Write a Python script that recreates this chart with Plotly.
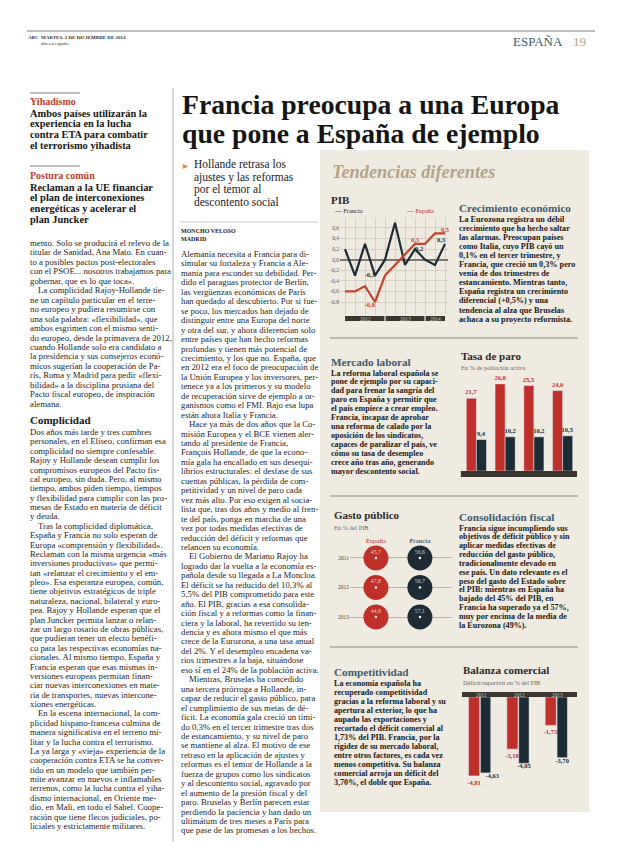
import plotly.graph_objects as go

W, H = 620, 846
SERIF = "Liberation Serif"
RED = "#c0302a"
DARK = "#1d2b35"
BLUEH = "#3d5b6e"
TAN = "#b2a386"
BEIGE = "#f0ebe1"
TXT = "#262626"

# ---------------- data ----------------
pib_quarters = ["I-12", "II-12", "III-12", "IV-12", "I-13", "II-13", "III-13", "IV-13", "I-14", "II-14", "III-14"]
pib_francia = [0.2, -0.3, 0.3, -0.3, 0.0, 0.7, -0.1, 0.2, 0.0, -0.1, 0.3]
pib_espana = [-0.6, -0.6, -0.5, -0.8, -0.3, -0.1, 0.1, 0.3, 0.3, 0.5, 0.5]
pib_years = ["2012", "2013", "2014"]
pib_year_counts = [4, 4, 3]
pib_ticks = [0.6, 0.4, 0.2, 0.0, -0.2, -0.4, -0.6, -0.8]
pib_fr_labels = {3: "middle left", 7: "middle right", 10: "top left"}
pib_es_labels = {3: "bottom left", 7: "top center", 10: "top center"}

paro_years = ["2011", "2012", "2013", "2014"]
paro_espana = [21.7, 26.0, 25.5, 24.0]
paro_francia = [9.4, 10.2, 10.2, 10.5]

gasto_years = ["2011", "2012", "2013"]
gasto_countries = ["España", "Francia"]
gasto_espana = [45.7, 47.8, 44.8]
gasto_francia = [56.6, 56.7, 57.1]

balanza_years = ["2011", "2012", "2013"]
balanza_espana = [-4.81, -3.18, -1.73]
balanza_francia = [-4.63, -4.05, -3.70]
balanza_fr_label_pos = ["bottom right", "bottom center", "bottom center"]


def fmt(v, d=1):
    return f"{v:.{d}f}".replace(".", ",")


def X(x):
    return x / W


def Y(y):
    return 1 - y / H


ann = []
shapes = []


def text(x, y, s, size, color=TXT, family=SERIF, xanchor="left", yanchor="middle", xref="paper"):
    ann.append(dict(x=X(x) if xref == "paper" else x, y=Y(y), xref=xref, yref="paper", text=s,
                    showarrow=False, font=dict(size=size, color=color, family=family),
                    xanchor=xanchor, yanchor=yanchor, borderpad=0))


def block(lines, x, y0, lh, size, color=TXT, bold=False, indent=8):
    for i, s in enumerate(lines):
        dx = 0
        if s.startswith(">"):
            s = s[1:]
            dx = indent
        t = f"<b>{s}</b>" if bold else s
        text(x + dx, y0 + i * lh, t, size, color)


def hline(x0, x1, y, color="#8a8478", width=1):
    shapes.append(dict(type="line", xref="paper", yref="paper", x0=X(x0), x1=X(x1), y0=Y(y), y1=Y(y),
                       line=dict(color=color, width=width)))


def rect(x0, x1, y0, y1, color, layer="below"):
    shapes.append(dict(type="rect", xref="paper", yref="paper", x0=X(x0), x1=X(x1), y0=Y(y1), y1=Y(y0),
                       fillcolor=color, line=dict(width=0), layer=layer))


# ---------------- page furniture ----------------
rect(320, 589, 150, 812, BEIGE)
hline(27, 595, 31, "#777", 1)
shapes.append(dict(type="line", xref="paper", yref="paper", x0=X(173), x1=X(173), y0=Y(88), y1=Y(842),
                   line=dict(color="#999", width=0.8)))
hline(30, 80, 93, "#aaa", 1.5)
hline(30, 80, 166, "#aaa", 1.5)
hline(180, 318, 222, "#aaa", 0.6)
for yy in (338, 496, 647):
    hline(330, 578, yy, "#8a8478", 1)

text(27, 38, "<b>ABC</b>", 5, "#333")
text(40, 38, "<b>MARTES, 2 DE DICIEMBRE DE 2014</b>", 5, "#333")
text(40, 44, "abc.es/españa", 5, "#333")
text(512, 42, "ESPAÑA", 13, BLUEH)
text(572, 42, "19", 13, TAN)

# headline
text(181, 104.5, "<b>Francia preocupa a una Europa</b>", 27.7, "#151515")
text(181, 133, "<b>que pone a España de ejemplo</b>", 27.7, "#151515")

# deck
text(182, 165, "▸", 10, "#e0892b")
block(["Hollande retrasa los", "ajustes y las reformas", "por el temor al", "descontento social"],
      193, 164.5, 12.6, 11.5, "#222")

text(180, 231, "<b>MONCHO VELOSO</b>", 6, "#222")
text(180, 239, "<b>MADRID</b>", 6, "#222")

# left column heads
text(29, 102, "<b>Yihadismo</b>", 10, "#b8402a")
block(["Ambos países utilizarán la", "experiencia en la lucha", "contra ETA para combatir",
       "el terrorismo yihadista"], 29, 113, 10.7, 10.4, "#151515", bold=True)
text(29, 175, "<b>Postura común</b>", 10, "#b8402a")
block(["Reclaman a la UE financiar", "el plan de interconexiones", "energéticas y acelerar el",
       "plan Juncker"], 29, 187, 10.7, 10.4, "#151515", bold=True)

left1 = [
    "mento. Solo se producirá el relevo de la",
    "titular de Sanidad, Ana Mato. En cuan-",
    "to a posibles pactos post-electorales",
    "con el PSOE... nosotros trabajamos para",
    "gobernar, que es lo que toca».",
    ">La complicidad Rajoy-Hollande tie-",
    "ne un capítulo particular en el terre-",
    "no europeo y pudiera resumirse con",
    "una sola palabra: «flexibilidad», que",
    "ambos esgrimen con el mismo senti-",
    "do europeo, desde la primavera de 2012,",
    "cuando Hollande solo era candidato a",
    "la presidencia y sus consejeros econó-",
    "micos sugerían la cooperación de Pa-",
    "rís, Roma y Madrid para pedir «flexi-",
    "bilidad» a la disciplina prusiana del",
    "Pacto fiscal europeo, de inspiración",
    "alemana.",
]
left2 = [
    "Dos años más tarde y tres cumbres",
    "personales, en el Elíseo, confirman esa",
    "complicidad no siempre confesable.",
    "Rajoy y Hollande desean cumplir los",
    "compromisos europeos del Pacto fis-",
    "cal europeo, sin duda. Pero, al mismo",
    "tiempo, ambos piden tiempo, tiempos",
    "y flexibilidad para cumplir con las pro-",
    "mesas de Estado en materia de déficit",
    "y deuda.",
    ">Tras la complicidad diplomática,",
    "España y Francia no solo esperan de",
    "Europa «comprensión y flexibilidad».",
    "Reclaman con la misma urgencia «más",
    "inversiones productivas» que permi-",
    "tan «relanzar el crecimiento y el em-",
    "pleo». Esa esperanza europea, común,",
    "tiene objetivos estratégicos de triple",
    "naturaleza, nacional, bilateral y euro-",
    "pea. Rajoy y Hollande esperan que el",
    "plan Juncker permita lanzar o relan-",
    "zar un largo rosario de obras públicas,",
    "que pudieran tener un efecto benéfi-",
    "co para las respectivas economías na-",
    "cionales. Al mismo tiempo, España y",
    "Francia esperan que esas mismas in-",
    "versiones europeas permitan finan-",
    "ciar nuevas interconexiones en mate-",
    "ria de transportes, nuevas intercone-",
    "xiones energéticas.",
    ">En la escena internacional, la com-",
    "plicidad hispano-francesa culmina de",
    "manera significativa en el terreno mi-",
    "litar y la lucha contra el terrorismo.",
    "La ya larga y «vieja» experiencia de la",
    "cooperación contra ETA se ha conver-",
    "tido en un modelo que también per-",
    "mite avanzar en nuevos e inflamables",
    "terrenos, como la lucha contra el yiha-",
    "dismo internacional, en Oriente me-",
    "dio, en Mali, en todo el Sahel. Coope-",
    "ración que tiene flecos judiciales, po-",
    "liciales y estrictamente militares.",
]
block(left1, 29, 243, 9.45, 8.75)
text(29, 420, "<b>Complicidad</b>", 11, "#151515")
block(left2, 29, 432, 9.38, 8.75)

mid = [
    "Alemania necesita a Francia para di-",
    "simular su fortaleza y Francia a Ale-",
    "mania para esconder su debilidad. Per-",
    "dido el paraguas protector de Berlín,",
    "las vergüenzas económicas de París",
    "han quedado al descubierto. Por si fue-",
    "se poco, los mercados han dejado de",
    "distinguir entre una Europa del norte",
    "y otra del sur, y ahora diferencian solo",
    "entre países que han hecho reformas",
    "profundas y tienen más potencial de",
    "crecimiento, y los que no. España, que",
    "en 2012 era el foco de preocupación de",
    "la Unión Europea y los inversores, per-",
    "tenece ya a los primeros y su modelo",
    "de recuperación sirve de ejemplo a or-",
    "ganismos como el FMI. Bajo esa lupa",
    "están ahora Italia y Francia.",
    ">Hace ya más de dos años que la Co-",
    "misión Europea y el BCE vienen aler-",
    "tando al presidente de Francia,",
    "François Hollande, de que la econo-",
    "mía gala ha encallado en sus desequi-",
    "librios estructurales: el desfase de sus",
    "cuentas públicas, la pérdida de com-",
    "petitividad y un nivel de paro cada",
    "vez más alto. Por eso exigen al socia-",
    "lista que, tras dos años y medio al fren-",
    "te del país, ponga en marcha de una",
    "vez por todas medidas efectivas de",
    "reducción del déficit y reformas que",
    "relancen su economía.",
    ">El Gobierno de Mariano Rajoy ha",
    "logrado dar la vuelta a la economía es-",
    "pañola desde su llegada a La Moncloa.",
    "El déficit se ha reducido del 10,3% al",
    "5,5% del PIB comprometido para este",
    "año. El PIB, gracias a esa consolida-",
    "ción fiscal y a reformas como la finan-",
    "ciera y la laboral, ha revertido su ten-",
    "dencia y es ahora mismo el que más",
    "crece de la Eurozona, a una tasa anual",
    "del 2%. Y el desempleo encadena va-",
    "rios trimestres a la baja, situándose",
    "eso sí en el 24% de la población activa.",
    ">Mientras, Bruselas ha concedido",
    "una tercera prórroga a Hollande, in-",
    "capaz de reducir el gasto público, para",
    "el cumplimiento de sus metas de dé-",
    "ficit. La economía gala creció un timi-",
    "do 0,3% en el tercer trimestre tras dos",
    "de estancamiento, y su nivel de paro",
    "se mantiene al alza. El motivo de ese",
    "retraso en la aplicación de ajustes y",
    "reformas es el temor de Hollande a la",
    "fuerza de grupos como los sindicatos",
    "y al descontento social, agravado por",
    "el aumento de la presión fiscal y del",
    "paro. Bruselas y Berlín parecen estar",
    "perdiendo la paciencia y han dado un",
    "ultimátum de tres meses a París para",
    "que pase de las promesas a los hechos.",
]
block(mid, 180, 254, 9.45, 8.75)

# ---------------- infographic texts ----------------
text(331, 172, "<b><i>Tendencias diferentes</i></b>", 18.3, TAN)

text(458, 208, "<b>Crecimiento económico</b>", 11.2, BLUEH)
block(["La Eurozona registra un débil", "crecimiento que ha hecho saltar", "las alarmas. Preocupan países",
       "como Italia, cuyo PIB cayó un", "0,1% en el tercer trimestre, y", "Francia, que creció un 0,3% pero",
       "venía de dos trimestres de", "estancamiento. Mientras tanto,", "España registra un crecimiento",
       "diferencial (+0,5%) y una", "tendencia al alza que Bruselas", "achaca a su proyecto reformista."],
      458, 219, 9.1, 8.2, "#1a1a1a", bold=True)

text(330, 362, "<b>Mercado laboral</b>", 11.2, BLUEH)
block(["La reforma laboral española se", "pone de ejemplo por su capaci-", "dad para frenar la sangría del",
       "paro en España y permitir que", "el país empiece a crear empleo.", "Francia, incapaz de aprobar",
       "una reforma de calado por la", "oposición de los sindicatos,", "capaces de paralizar el país, ve",
       "cómo su tasa de desempleo", "crece año tras año, generando", "mayor descontento social."],
      330, 373, 8.95, 8.1, "#1a1a1a", bold=True)

text(458, 517, "<b>Consolidación fiscal</b>", 11.2, BLUEH)
block(["Francia sigue incumpliendo sus", "objetivos de déficit público y sin", "aplicar medidas efectivas de",
       "reducción del gasto público,", "tradicionalmente elevado en", "ese país. Un dato relevante es el",
       "peso del gasto del Estado sobre", "el PIB: mientras en España ha", "bajado del 45% del PIB, en",
       "Francia ha superado ya el 57%,", "muy por encima de la media de", "la Eurozona (49%)."],
      458, 528, 8.85, 8.1, "#1a1a1a", bold=True)

text(333, 672, "<b>Competitividad</b>", 11.2, BLUEH)
block(["La economía española ha", "recuperado competitividad", "gracias a la reforma laboral y su",
       "apertura al exterior, lo que ha", "aupado las exportaciones y", "recortado el déficit comercial al",
       "1,73% del PIB. Francia, por la", "rigidez de su mercado laboral,", "entre otros factores, es cada vez",
       "menos competitiva. Su balanza", "comercial arroja un déficit del", "3,70%, el doble que España."],
      333, 683, 9.0, 8.1, "#1a1a1a", bold=True)

# chart titles
text(330, 200, "<b>PIB</b>", 11, "#2a2a2a")
text(333, 211, f"<span style='color:{DARK}'><b>—</b></span> Francia", 6.5, DARK)
text(405, 211, f"<span style='color:{RED}'><b>—</b></span> España", 6.5, RED)
text(460, 356, "<b>Tasa de paro</b>", 11, "#2a2a2a")
text(460, 368, "En % de población activa", 6.3, "#666")
text(333, 515, "<b>Gasto público</b>", 11, "#2a2a2a")
text(333, 527, "En % del PIB", 6.3, "#666")
text(462, 670, "<b>Balanza comercial</b>", 11, "#2a2a2a")
text(462, 682, "Déficit/superávit en % del PIB", 6.3, "#666")

fig = go.Figure()

# ---------------- PIB line chart ----------------
qx = list(range(len(pib_quarters)))
fig.add_trace(go.Scatter(
    x=qx, y=pib_francia, mode="lines+text", line=dict(color=DARK, width=2.2),
    text=[fmt(v) if i in pib_fr_labels else "" for i, v in enumerate(pib_francia)],
    textposition=[pib_fr_labels.get(i, "top center") for i in qx],
    textfont=dict(size=6.5, color=DARK, family=SERIF), texttemplate="<b>%{text}</b>",
    xaxis="x", yaxis="y", showlegend=False, cliponaxis=False))
fig.add_trace(go.Scatter(
    x=qx, y=pib_espana, mode="lines+text", line=dict(color="#c8412b", width=2.2),
    text=[fmt(v) if i in pib_es_labels else "" for i, v in enumerate(pib_espana)],
    textposition=[pib_es_labels.get(i, "top center") for i in qx],
    textfont=dict(size=6.5, color="#c8412b", family=SERIF), texttemplate="<b>%{text}</b>",
    xaxis="x", yaxis="y", showlegend=False, cliponaxis=False))

# year band under PIB
start = 0
last = len(pib_quarters) - 1
for yr, n in zip(pib_years, pib_year_counts):
    x0, x1 = start, min(start + n, last)
    shapes.append(dict(type="rect", xref="x", yref="paper", x0=x0 + (0.06 if start else 0),
                       x1=x1 - (0.06 if x1 < last else 0), y0=Y(321), y1=Y(316),
                       fillcolor="#3b3530", line=dict(width=0)))
    text((x0 + x1) / 2, 318.5, yr, 5.3, "#d8cfbd", xanchor="center", xref="x")
    start += n

# ---------------- Tasa de paro ----------------
fig.add_trace(go.Bar(
    x=paro_years, y=paro_espana, marker_color=RED, width=0.35, offset=-0.35,
    text=[fmt(v) for v in paro_espana], texttemplate="<b>%{text}</b>", textposition="outside",
    textfont=dict(size=6.5, color=RED, family=SERIF), constraintext="none", cliponaxis=False,
    xaxis="x2", yaxis="y2", showlegend=False))
fig.add_trace(go.Bar(
    x=paro_years, y=paro_francia, marker_color=DARK, width=0.35, offset=0.0,
    text=[fmt(v) for v in paro_francia], texttemplate="<b>%{text}</b>", textposition="outside",
    textfont=dict(size=6.5, color=DARK, family=SERIF), constraintext="none", cliponaxis=False,
    xaxis="x2", yaxis="y2", showlegend=False))
shapes.append(dict(type="rect", xref="x2 domain", yref="paper", x0=-0.01, x1=1.0, y0=Y(477), y1=Y(471),
                   fillcolor="#3b3530", line=dict(width=0)))
for yr in paro_years:
    text(yr, 474, yr, 5.3, "#d8cfbd", xanchor="center", xref="x2")

# ---------------- Gasto público ----------------
fig.add_trace(go.Scatter(
    x=[0] * len(gasto_years), y=list(range(len(gasto_years))), mode="markers",
    marker=dict(size=25, color=RED), xaxis="x3", yaxis="y3", showlegend=False, hoverinfo="skip"))
fig.add_trace(go.Scatter(
    x=[1] * len(gasto_years), y=list(range(len(gasto_years))), mode="markers",
    marker=dict(size=25, color=DARK), xaxis="x3", yaxis="y3", showlegend=False, hoverinfo="skip"))
fig.add_trace(go.Scatter(
    x=[0] * len(gasto_years), y=list(range(len(gasto_years))), mode="markers+text",
    marker=dict(size=2.5, color="white"), text=[fmt(v) for v in gasto_espana], textposition="top center",
    textfont=dict(size=5.8, color="#f3cfc2", family=SERIF), xaxis="x3", yaxis="y3", showlegend=False))
fig.add_trace(go.Scatter(
    x=[1] * len(gasto_years), y=list(range(len(gasto_years))), mode="markers+text",
    marker=dict(size=2.5, color="white"), text=[fmt(v) for v in gasto_francia], textposition="top center",
    textfont=dict(size=5.8, color="#c9cfd3", family=SERIF), xaxis="x3", yaxis="y3", showlegend=False))

# ---------------- Balanza comercial ----------------
bx = list(range(len(balanza_years)))
ES_W, ES_OFF = 0.29, -0.33
FR_W, FR_OFF = 0.27, -0.02
fig.add_trace(go.Bar(
    x=bx, y=balanza_espana, marker_color=RED, width=ES_W, offset=ES_OFF,
    text=[fmt(v, 2) for v in balanza_espana], texttemplate="<b>%{text}</b>", textposition="outside",
    textfont=dict(size=6.5, color=RED, family=SERIF), constraintext="none", cliponaxis=False,
    xaxis="x4", yaxis="y4", showlegend=False))
fig.add_trace(go.Bar(
    x=bx, y=balanza_francia, marker_color=DARK, width=FR_W, offset=FR_OFF,
    xaxis="x4", yaxis="y4", showlegend=False))
fig.add_trace(go.Scatter(
    x=[i + FR_OFF + FR_W / 2 for i in bx], y=balanza_francia, mode="text",
    text=[fmt(v, 2) for v in balanza_francia], texttemplate="<b>%{text}</b>",
    textposition=balanza_fr_label_pos, textfont=dict(size=6.5, color=DARK, family=SERIF),
    cliponaxis=False, xaxis="x4", yaxis="y4", showlegend=False))
shapes.append(dict(type="rect", xref="x4 domain", yref="paper", x0=0, x1=1.0, y0=Y(697), y1=Y(692),
                   fillcolor="#3b3530", line=dict(width=0)))
for i, yr in zip(bx, balanza_years):
    text(i, 694.5, yr, 5.3, "#d8cfbd", xanchor="center", xref="x4")

noaxis = dict(showgrid=False, zeroline=False, showline=False, showticklabels=False, ticks="")

fig.update_layout(
    width=W, height=H, margin=dict(l=0, r=0, t=0, b=0),
    paper_bgcolor="white", plot_bgcolor="rgba(0,0,0,0)",
    barmode="overlay", showlegend=False,
    font=dict(family=SERIF, color=TXT),
    annotations=ann, shapes=shapes,
    xaxis=dict(domain=[X(340), X(448)], range=[-0.5, 10.3], tickvals=qx, showticklabels=False,
               showgrid=True, gridcolor="#d6cfc2", gridwidth=0.7, zeroline=False, ticks="", anchor="y"),
    yaxis=dict(domain=[Y(314), Y(218)], range=[-1.027, 0.789], tickvals=pib_ticks,
               ticktext=[fmt(v) for v in pib_ticks], tickfont=dict(size=5.5, color="#555", family=SERIF),
               showgrid=True, gridcolor="#d6cfc2", gridwidth=0.7, zeroline=True, zerolinecolor="#7d7873",
               zerolinewidth=1.6, ticks="", anchor="x"),
    xaxis2=dict(domain=[X(462), X(577)], type="category", anchor="y2", range=[-0.5, 3.5], **noaxis),
    yaxis2=dict(domain=[Y(471), Y(380)], range=[0, 27.16], anchor="x2", visible=False),
    xaxis3=dict(domain=[X(350), X(452)], range=[-0.59, 1.73], anchor="y3", side="top",
                tickvals=[0, 1],
                ticktext=[f"<span style='color:{RED}'>{gasto_countries[0]}</span>",
                          f"<span style='color:{DARK}'>{gasto_countries[1]}</span>"],
                tickfont=dict(size=7, family=SERIF), showgrid=False, zeroline=False, ticks=""),
    yaxis3=dict(domain=[Y(630), Y(545)], range=[2.44, -0.44], anchor="x3", tickvals=[0, 1, 2],
                ticktext=gasto_years, tickfont=dict(size=5.5, color="#444", family=SERIF),
                showgrid=True, gridcolor="#b9b3a8", gridwidth=0.8, zeroline=False, ticks=""),
    xaxis4=dict(domain=[X(462), X(577)], anchor="y4", range=[-0.5, 2.5], **noaxis),
    yaxis4=dict(domain=[Y(790), Y(697)], range=[-5.67, 0], anchor="x4", visible=False),
)

fig.write_html("out.html", config={"displayModeBar": False},
               post_script="document.body.style.margin='0';document.body.style.padding='0';")
